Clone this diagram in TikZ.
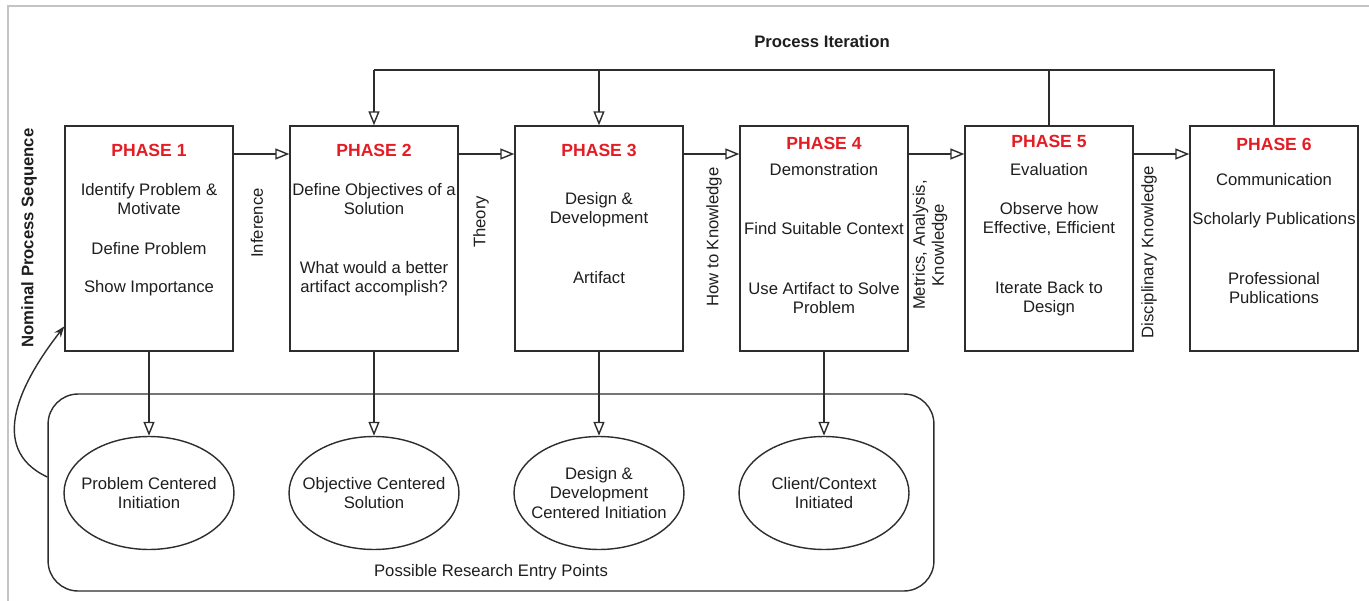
\documentclass[tikz,border=0pt]{standalone}
\usepackage{fontspec}
\setmainfont{Liberation Sans}
\usetikzlibrary{arrows.meta,shapes.geometric,positioning,calc}

\definecolor{phasered}{RGB}{228,28,36}
\definecolor{linegray}{RGB}{45,45,45}
\definecolor{framegray}{RGB}{196,196,196}
\definecolor{textgray}{RGB}{30,30,30}

\begin{document}
\begin{tikzpicture}
[
x=0.02cm, y=-0.02cm,
every node/.style={font=\fontsize{9.5}{10.8}\selectfont, text=textgray, align=center},
phase/.style={draw=linegray, line width=0.8pt, minimum width=3.36cm, minimum height=4.5cm},
entry/.style={ellipse, draw=linegray, line width=0.8pt, minimum width=3.4cm, minimum height=2.26cm},
phasetitle/.style={font=\fontsize{10}{12}\selectfont\bfseries, text=phasered},
flow/.style={draw=linegray, line width=0.8pt, -{Triangle[open, length=0.28cm, width=0.22cm]}},
flowline/.style={draw=linegray, line width=0.8pt},
edgelabel/.style={rotate=90},
]
\useasboundingbox (0,0) rectangle (1369,601);
\draw[framegray, line width=1.2pt] (8,601) -- (8,6) -- (1369,6);

% phases
\node[phase] (p1) at (149,238.5) {};
\node[phase] (p2) at (374,238.5) {};
\node[phase] (p3) at (599,238.5) {};
\node[phase] (p4) at (824,238.5) {};
\node[phase] (p5) at (1049,238.5) {};
\node[phase] (p6) at (1274,238.5) {};

\node[phasetitle] (p1h) at (149,150) {PHASE 1};
\node (p1a) at (149,199.5) {Identify Problem \&\\Motivate};
\node (p1b) at (149,249) {Define Problem};
\node (p1c) at (149,288) {Show Importance};

\node[phasetitle] (p2h) at (374,150) {PHASE 2};
\node (p2a) at (374,199.5) {Define Objectives of a\\Solution};
\node (p2b) at (374,278.5) {What would a better\\artifact accomplish?};

\node[phasetitle] (p3h) at (599,150) {PHASE 3};
\node (p3a) at (599,209.5) {Design \&\\Development};
\node (p3b) at (599,278) {Artifact};

\node[phasetitle] (p4h) at (824,143) {PHASE 4};
\node (p4a) at (824,170) {Demonstration};
\node (p4b) at (824,229) {Find Suitable Context};
\node (p4c) at (824,298.5) {Use Artifact to Solve\\Problem};

\node[phasetitle] (p5h) at (1049,141) {PHASE 5};
\node (p5a) at (1049,170) {Evaluation};
\node (p5b) at (1049,219.5) {Observe how\\Effective, Efficient};
\node (p5c) at (1049,298.5) {Iterate Back to\\Design};

\node[phasetitle] (p6h) at (1274,144) {PHASE 6};
\node (p6a) at (1274,180) {Communication};
\node (p6b) at (1274,220) {Scholarly Publications};
\node (p6c) at (1274,288.5) {Professional\\Publications};

% nominal sequence
\coordinate (seq) at (0,154);
\draw[flow] (p1.east |- seq) -- (p2.west |- seq);
\draw[flow] (p2.east |- seq) -- (p3.west |- seq);
\draw[flow] (p3.east |- seq) -- (p4.west |- seq);
\draw[flow] (p4.east |- seq) -- (p5.west |- seq);
\draw[flow] (p5.east |- seq) -- (p6.west |- seq);

\node[edgelabel] (l1) at (257,223) {Inference};
\node[edgelabel] (l2) at (481,222) {Theory};
\node[edgelabel] (l3) at (714,237) {How to Knowledge};
\node[edgelabel] (l4) at (930,245) {Metrics, Analysis,\\Knowledge};
\node[edgelabel] (l5) at (1149,252) {Disciplinary Knowledge};

\node[font=\fontsize{9.5}{11}\selectfont\bfseries, edgelabel] (nps) at (29,238) {Nominal Process Sequence};

% iteration
\coordinate (itr) at (0,70);
\node[font=\fontsize{9.5}{11}\selectfont\bfseries] (pi) at (822,42) {Process Iteration};
\draw[flowline] (p6.north) -- (p6.north |- itr) -- (p2.north |- itr);
\draw[flowline] (p5.north) -- (p5.north |- itr);
\draw[flow] (p2.north |- itr) -- (p2.north);
\draw[flow] (p3.north |- itr) -- (p3.north);

% entry points
\node[draw=linegray, line width=0.8pt, rounded corners=0.6cm, minimum width=17.72cm, minimum height=3.94cm] (entries) at (491,492.5) {};
\node (entrylbl) at (491,572) {Possible Research Entry Points};

\node[entry] (e1) at (149,493) {};
\node[entry] (e2) at (374,493) {};
\node[entry] (e3) at (599,493) {};
\node[entry] (e4) at (824,493) {};
\node (e1t) at (e1) {Problem Centered\\Initiation};
\node (e2t) at (e2) {Objective Centered\\Solution};
\node[font=\fontsize{9.5}{11.3}\selectfont] (e3t) at (e3) {Design \&\\Development\\Centered Initiation};
\node (e4t) at (e4) {Client/Context\\Initiated};

\draw[flow] (p1.south) -- (e1.north);
\draw[flow] (p2.south) -- (e2.north);
\draw[flow] (p3.south) -- (e3.north);
\draw[flow] (p4.south) -- (e4.north);

\draw[flowline, -{Stealth[length=0.22cm, width=0.16cm]}] ([yshift=8.8pt]entries.west) to[out=155, in=232, looseness=1.15] ([yshift=-50pt]p1.west);
\end{tikzpicture}
\end{document}
